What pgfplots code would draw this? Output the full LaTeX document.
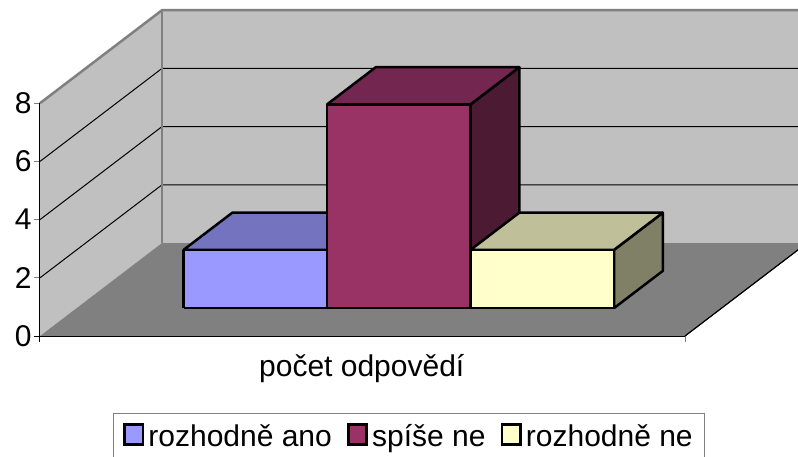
\documentclass[border=0pt]{standalone}
\usepackage{fontspec}
\setmainfont{Liberation Sans}
\usepackage{pgfplots}
\pgfplotsset{compat=1.18}

\definecolor{wall}{HTML}{C0C0C0}
\definecolor{flr}{HTML}{808080}
\definecolor{aF}{HTML}{9999FF}\definecolor{aT}{HTML}{7373BF}\definecolor{aS}{HTML}{4D4D80}
\definecolor{bF}{HTML}{993366}\definecolor{bT}{HTML}{732650}\definecolor{bS}{HTML}{4D1A33}
\definecolor{cF}{HTML}{FFFFCC}\definecolor{cT}{HTML}{BFBF99}\definecolor{cS}{HTML}{808066}

% x0, x1, value, front/top/side colours
\newcommand{\barbox}[6]{%
  \addplot3[fill=#6, draw=black, line width=2.5pt, line join=round] coordinates {(#2,0.3,0) (#2,0.7,0) (#2,0.7,#3) (#2,0.3,#3) (#2,0.3,0)};
  \addplot3[fill=#5, draw=black, line width=2.5pt, line join=round] coordinates {(#1,0.3,#3) (#2,0.3,#3) (#2,0.7,#3) (#1,0.7,#3) (#1,0.3,#3)};
  \addplot3[fill=#4, draw=black, line width=2.5pt, line join=round] coordinates {(#1,0.3,0) (#2,0.3,0) (#2,0.3,#3) (#1,0.3,#3) (#1,0.3,0)};
}

\begin{document}
\begin{tikzpicture}
\useasboundingbox (0,0) rectangle (798pt,456pt);
\clip (0,0) rectangle (798pt,456pt);
\begin{axis}[
  at={(40pt,120pt)}, anchor=origin,
  x={(143.5pt,0pt)}, y={(122pt,93pt)}, z={(0pt,29.1pt)},
  xmin=0, xmax=4.495, ymin=0, ymax=1, zmin=0, zmax=8,
  axis lines=left, axis line style={-, black, line width=1pt},
  axis on top, clip=false,
  xtick=\empty, ytick=\empty, ztick={0,2,4,6,8},
  major tick length=0pt,
  font=\fontsize{30}{32}\selectfont,
  tick label style={font=\fontsize{30}{32}\selectfont},
  z tick label style={anchor=east, xshift=-5pt},
  /pgf/number format/assume math mode=true,
  xlabel={počet odpovědí},
  xlabel style={xshift=8pt, yshift=-15pt},
  legend columns=3,
  legend style={at={(axis cs:2.571,0,-3.44)}, anchor=center, draw=flr, line width=1pt,
    font=\fontsize{30}{32}\selectfont, inner xsep=10pt, inner ysep=9pt,
    /tikz/every odd column/.append style={column sep=2pt},
    /tikz/every even column/.append style={column sep=13pt}},
  legend image code/.code={\draw[#1, line width=2.8pt] (0pt,-8pt) rectangle (18.5pt,11.5pt);},
]
\addlegendimage{fill=aF, draw=black}
\addlegendimage{fill=bF, draw=black}
\addlegendimage{fill=cF, draw=black}

% walls and floor
\addplot3[fill=wall, draw=none] coordinates {(0,0,0) (0,1,0) (0,1,8) (0,0,8) (0,0,0)};
\addplot3[fill=wall, draw=none] coordinates {(0,1,0) (4.495,1,0) (4.495,1,8) (0,1,8) (0,1,0)};
\addplot3[fill=flr, draw=none] coordinates {(0,0,0) (4.495,0,0) (4.495,1,0) (0,1,0) (0,0,0)};

% grid lines
\addplot3[black, line width=1pt] coordinates {(0,0,2) (0,1,2) (4.495,1,2)};
\addplot3[black, line width=1pt] coordinates {(0,0,4) (0,1,4) (4.495,1,4)};
\addplot3[black, line width=1pt] coordinates {(0,0,6) (0,1,6) (4.495,1,6)};

% wall edges
\addplot3[flr, line width=2.5pt] coordinates {(0,0,8) (0,1,8) (4.495,1,8)};
\addplot3[flr, line width=2.5pt] coordinates {(0,1,0) (0,1,8)};
\addplot3[black, line width=1pt] coordinates {(4.495,0,0) (4.495,1,0)};

% tick marks, which stand square to the page and not along the depth
\addplot3[black, line width=1pt] coordinates {(-0.042,0,0) (0,0,0)};
\addplot3[flr, line width=1pt] coordinates {(-0.042,0,2) (0,0,2)};
\addplot3[flr, line width=1pt] coordinates {(-0.042,0,4) (0,0,4)};
\addplot3[flr, line width=1pt] coordinates {(-0.042,0,6) (0,0,6)};
\addplot3[flr, line width=1pt] coordinates {(-0.042,0,8) (0,0,8)};
\addplot3[black, line width=1pt] coordinates {(0,0,-0.2) (0,0,0)};
\addplot3[flr, line width=1pt] coordinates {(4.495,0,-0.2) (4.495,0,0)};

% bars: rozhodně ano 2, spíše ne 7, rozhodně ne 2
\barbox{0.745}{1.745}{2}{aF}{aT}{aS}
\barbox{1.745}{2.745}{7}{bF}{bT}{bS}
\barbox{2.745}{3.745}{2}{cF}{cT}{cS}

\legend{rozhodně ano,spíše ne,rozhodně ne}
\end{axis}
\end{tikzpicture}
\end{document}
